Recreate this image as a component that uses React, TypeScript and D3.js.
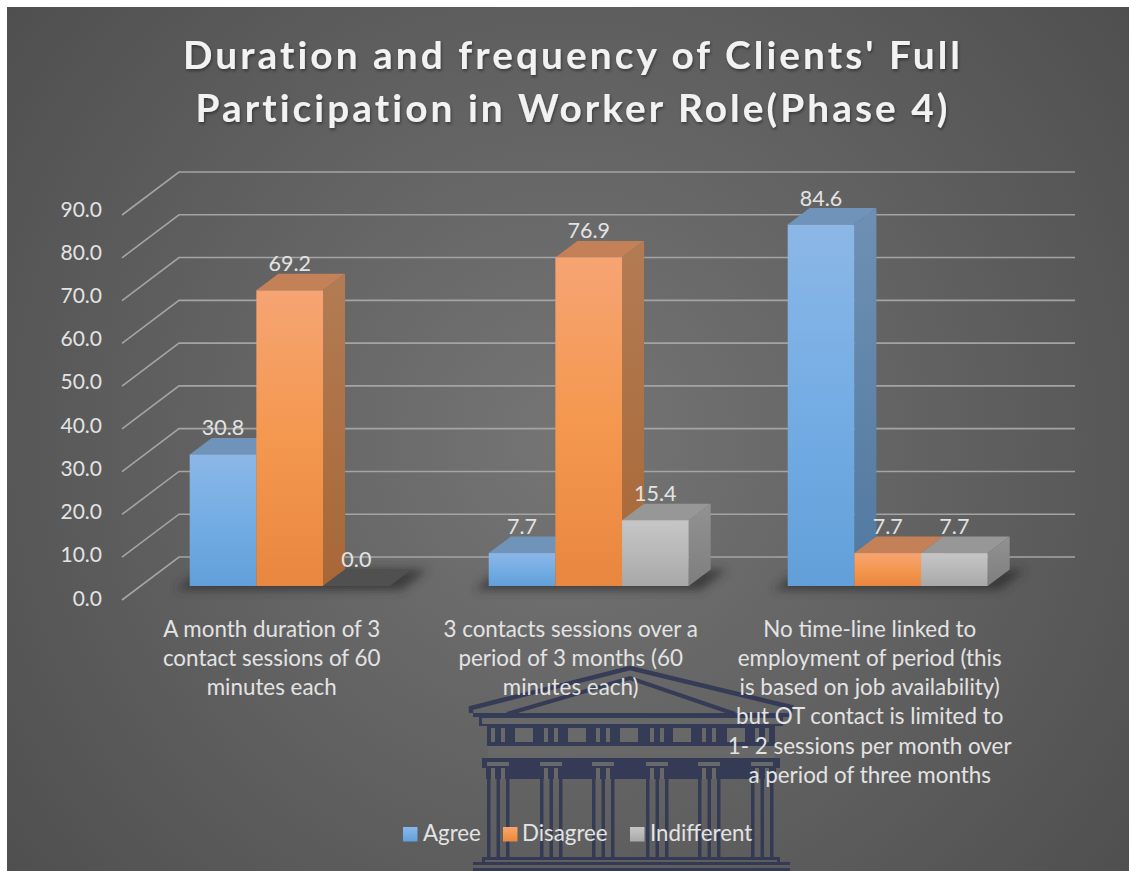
import React from "react";
import * as d3 from "d3";

const titleLines = ["Duration and frequency of Clients' Full", "Participation in Worker Role(Phase 4)"];
const categories = ["c1", "c2", "c3"];
const categoryLines = [
  ["A month duration of 3", "contact sessions of 60", "minutes each"],
  ["3 contacts sessions over a", "period of 3 months (60", "minutes each)"],
  ["No time-line linked to", "employment of period (this", "is based on job availability)", "but OT contact is limited to", "1- 2 sessions per month over", "a period of three months"],
];
const seriesNames = ["Agree", "Disagree", "Indifferent"];
const agree = [30.8, 7.7, 84.6];
const disagree = [69.2, 76.9, 7.7];
const indifferent = [0.0, 15.4, 7.7];
const seriesValues = [agree, disagree, indifferent];
const ticks = [0, 10, 20, 30, 40, 50, 60, 70, 80, 90];

const frontTop = ["#8cb7e7", "#f6a473", "#c6c6c6"];
const frontMid = ["#74ade4", "#f4984f", "#b8b8b8"];
const frontBottom = ["#629fd9", "#e98640", "#a8a8a8"];
const sideTop = ["#6f90b4", "#b27c54", "#929292"];
const sideBottom = ["#50789f", "#a86735", "#7e7e7e"];
const topColors = ["#7093b9", "#c48056", "#979797"];
const legendSwatchX = [403, 503, 630];
const legendTextX = [423, 522, 650];
const columnX = [498, 551, 603, 657, 709, 762];
const metopeX = [524, 577, 629, 682, 736];

const FONT = "Lato, 'Open Sans', sans-serif";
const BUILD = "#2c3052";
const LIGHT = "#6b6b6b";
const TXT = "#e3e3e3";

const yWall = d3.scaleLinear().domain([0, 90]).range([557, 172]);
const yBar = d3.scaleLinear().domain([0, 90]).range([586, 201.5]);
const yTick = d3.scaleLinear().domain([0, 90]).range([598, 209]);
const xGroup = d3.scalePoint<string>().domain(categories).range([289.7, 887.7]);
const xInner = d3.scaleBand<string>().domain(seriesNames).range([-100, 100]);
const barW = xInner.bandwidth();
const depthX = 22;
const depthY = 16.5;
const pts = (a: number[][]) => a.map((p) => p.join(",")).join(" ");

function Building() {
  return (
    <g fill={BUILD} opacity={0.8} filter="url(#soft)">
      <g fill="none" stroke={BUILD}>
        <polyline strokeWidth={4.5} points={pts([[471, 713], [471, 708], [630, 668], [791, 707], [790, 713]])} />
        <polyline strokeWidth={4} points={pts([[507, 714], [630, 678], [735, 714]])} />
      </g>
      <rect x={473} y={713} width={317} height={4} />
      <rect x={479} y={717} width={304} height={9} />
      <rect x={482} y={718} width={298} height={6} fill={LIGHT} />
      <rect x={487} y={726} width={288} height={20} />
      {metopeX.map((x) => (
        <rect key={x} x={x - 9} y={728} width={18} height={14} fill={LIGHT} />
      ))}
      {columnX.map((x) => (
        <g key={x} fill={LIGHT}>
          <rect x={x - 7} y={728} width={4} height={14} />
          <rect x={x + 3} y={728} width={4} height={14} />
        </g>
      ))}
      <rect x={488} y={746} width={287} height={12} fill={LIGHT} />
      <rect x={482} y={758} width={298} height={10} />
      <rect x={486} y={768} width={290} height={11} />
      {columnX.map((x) => (
        <g key={x}>
          <rect x={x - 11} y={762} width={22} height={4} fill={LIGHT} />
          <rect x={x - 7} y={768} width={4} height={11} fill={LIGHT} />
          <rect x={x + 3} y={768} width={4} height={11} fill={LIGHT} />
          <rect x={x - 11} y={779} width={3.5} height={79} />
          <rect x={x - 1.5} y={779} width={3.5} height={79} />
          <rect x={x + 8} y={779} width={3.5} height={79} />
        </g>
      ))}
      <rect x={482} y={857} width={298} height={3} />
      <rect x={482} y={857} width={3} height={7} />
      <rect x={777} y={857} width={3} height={7} />
      <rect x={473} y={862} width={317} height={3} />
      <rect x={473} y={868} width={317} height={3} />
    </g>
  );
}

export default function App() {
  return (
    <svg width={1129} height={871} style={{ position: "absolute", left: 0, top: 0, display: "block" }} fontFamily={FONT}>
      <defs>
        <radialGradient id="bg" gradientUnits="userSpaceOnUse" cx={568} cy={440} r={710}>
          <stop offset="0" stopColor="#757575" />
          <stop offset="1" stopColor="#4f4f4f" />
        </radialGradient>
        {seriesNames.map((s, i) => (
          <React.Fragment key={s}>
            <linearGradient id={`front${i}`} x1="0" y1="0" x2="0" y2="1">
              <stop offset="0" stopColor={frontTop[i]} />
              <stop offset="0.5" stopColor={frontMid[i]} />
              <stop offset="1" stopColor={frontBottom[i]} />
            </linearGradient>
            <linearGradient id={`side${i}`} x1="0" y1="0" x2="0" y2="1">
              <stop offset="0" stopColor={sideTop[i]} />
              <stop offset="1" stopColor={sideBottom[i]} />
            </linearGradient>
          </React.Fragment>
        ))}
        <filter id="blur" x="-20%" y="-50%" width="140%" height="200%">
          <feGaussianBlur stdDeviation="5" />
        </filter>
        <filter id="soft" x="-2%" y="-2%" width="104%" height="104%">
          <feGaussianBlur stdDeviation="0.7" />
        </filter>
        <filter id="tshadow" x="-5%" y="-20%" width="110%" height="150%">
          <feDropShadow dx="1" dy="2" stdDeviation="1.5" floodColor="#000" floodOpacity="0.4" />
        </filter>
      </defs>

      <rect width={1129} height={871} fill="#fff" />
      <rect x={7} y={7} width={1122} height={864} fill="url(#bg)" />

      <Building />

      <g filter="url(#tshadow)" fill="#f2f2f2" fontWeight={700} fontSize={38.8} letterSpacing={3.05} textAnchor="middle">
        {titleLines.map((t, i) => (
          <text key={t} x={573} y={69 + i * 53}>{t}</text>
        ))}
      </g>

      <g stroke="#a4a4a4" strokeWidth={1.6} fill="none">
        {ticks.map((t) => (
          <polyline key={t} points={pts([[122, yWall(t) + 43], [179, yWall(t)], [1075, yWall(t)]])} />
        ))}
      </g>

      <g fill={TXT} fontSize={21} textAnchor="end">
        {ticks.map((t) => (
          <text key={t} x={102} y={yTick(t) + 7.5}>{t.toFixed(1)}</text>
        ))}
      </g>

      {categories.map((c, gi) => {
        const left = xGroup(c)! - 100;
        return (
          <g key={c}>
            <polygon
              filter="url(#blur)"
              fill="#2f2f2f"
              opacity={0.75}
              points={pts([[left - 14, yBar(0) + 4], [left + 3 * barW + 12, yBar(0) + 4], [left + 3 * barW + depthX + 16, yBar(0) - depthY], [left + 12, yBar(0) - depthY]])}
            />
            {seriesNames.map((s, si) => {
              const v = seriesValues[si][gi];
              const x0 = xGroup(c)! + xInner(s)!;
              const x1 = x0 + barW;
              const yT = yBar(v);
              const yB = yBar(0);
              return (
                <g key={s}>
                  <polygon
                    fill={v === 0 ? "#505050" : topColors[si]}
                    points={pts([[x0, yT], [x1, yT], [x1 + depthX, yT - depthY], [x0 + depthX, yT - depthY]])}
                  />
                  {v > 0 && (
                    <>
                      <polygon fill={`url(#side${si})`} points={pts([[x1, yT], [x1 + depthX, yT - depthY], [x1 + depthX, yB - depthY], [x1, yB]])} />
                      <rect x={x0} y={yT} width={barW} height={yB - yT} fill={`url(#front${si})`} />
                    </>
                  )}
                </g>
              );
            })}
          </g>
        );
      })}

      <g fill={TXT} fontSize={21.5} textAnchor="middle">
        {categories.map((c, gi) =>
          seriesNames.map((s, si) => {
            const v = seriesValues[si][gi];
            return (
              <text key={c + s} x={xGroup(c)! + xInner(s)! + barW / 2} y={yBar(v) - 19}>
                {v.toFixed(1)}
              </text>
            );
          })
        )}
      </g>

      <g fill={TXT} fontSize={22.4} textAnchor="middle">
        {categories.map((c, gi) =>
          categoryLines[gi].map((line, li) => (
            <text key={c + li} x={xGroup(c)! - 18} y={636.5 + li * 29.3}>{line}</text>
          ))
        )}
      </g>

      <g fontSize={22.3} fill={TXT}>
        {seriesNames.map((s, i) => (
          <g key={s}>
            <rect x={legendSwatchX[i]} y={827} width={14.5} height={14.5} fill={`url(#front${i})`} />
            <text x={legendTextX[i]} y={841}>{s}</text>
          </g>
        ))}
      </g>
    </svg>
  );
}
